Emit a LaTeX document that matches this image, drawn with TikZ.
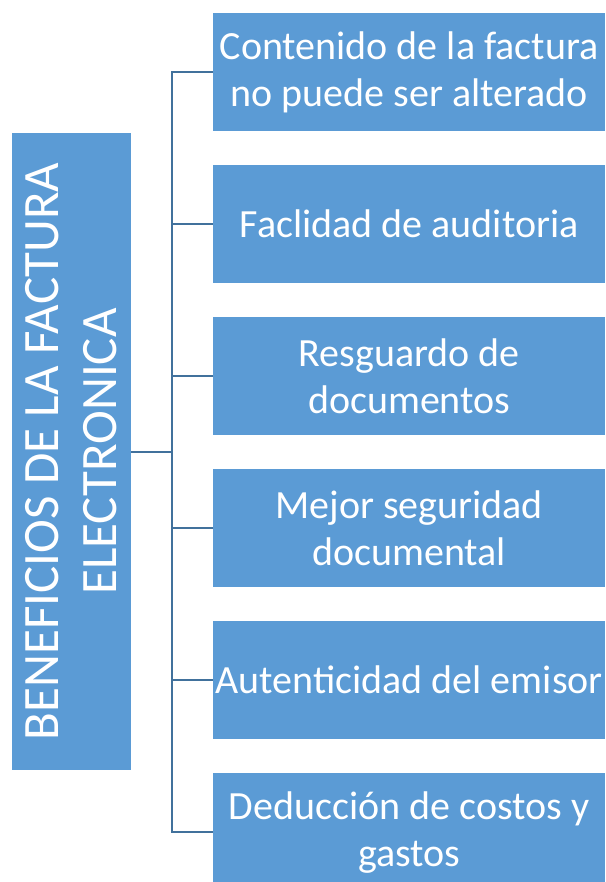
\documentclass[tikz,border=0pt]{standalone}
\usepackage{fontspec}
\setmainfont{Carlito}
\usetikzlibrary{positioning}
\definecolor{boxblue}{RGB}{91,155,213}
\definecolor{lineblue}{RGB}{65,113,156}
\tikzstyle{benefit} = [fill=boxblue, text=white, minimum width=392pt, minimum height=118pt, inner sep=0pt, align=center, font=\fontsize{40}{47}\selectfont]
\tikzstyle{title} = [fill=boxblue, text=white, minimum width=637pt, minimum height=119pt, inner sep=0pt, align=center, rotate=90, font=\fontsize{51}{58}\selectfont]
\tikzstyle{branch} = [draw=lineblue, line width=2pt]

\begin{document}
\begin{tikzpicture}[x=1pt,y=1pt]
\useasboundingbox (0,0) rectangle (605,-882);

% Main box (rotated)
\node[title] (main) at (71.5,-451.5) {BENEFICIOS DE LA FACTURA\\ELECTRONICA};
\coordinate (spine) at (172,-451.5);

% Benefits
\foreach \i/\txt in {0/{Contenido de la factura\\no puede ser alterado},
                     1/{Faclidad de auditoria},
                     2/{Resguardo de\\documentos},
                     3/{Mejor seguridad\\documental},
                     4/{Autenticidad del emisor},
                     5/{Deducción de costos y\\gastos}} {
    \node[benefit, anchor=north west] (b\i) at (213,{-13-152*\i}) {\txt};
}

% Connectors
\draw[branch] (main.south) -- (spine);
\draw[branch] (b0.west) -| (spine) |- (b5.west);
\foreach \i in {1,...,4} {
    \draw[branch] (b\i.west) -- (b\i.west -| spine);
}
\end{tikzpicture}
\end{document}
